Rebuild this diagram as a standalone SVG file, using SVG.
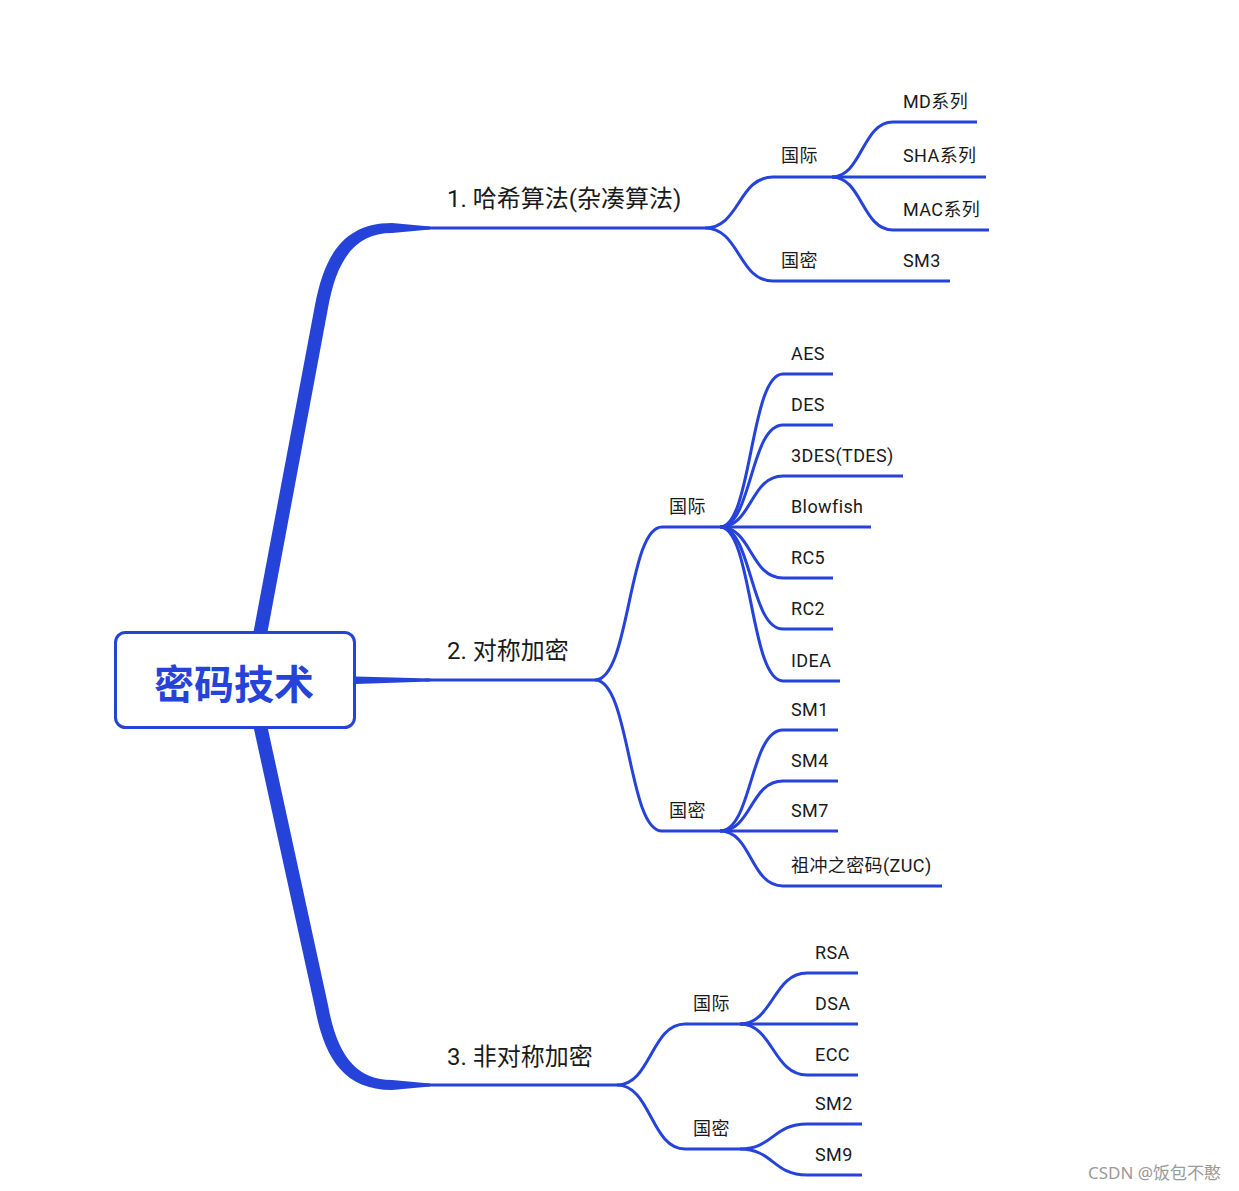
<svg xmlns="http://www.w3.org/2000/svg" width="1239" height="1191" viewBox="0 0 1239 1191">
<style>
.c{fill:none;stroke:#2643d9;stroke-width:3;stroke-linecap:butt}
.t{font-family:Roboto,"Noto Sans CJK SC",sans-serif;fill:#1a1a1a}
.b1{font-size:24px}
.b2{font-size:18px;letter-spacing:0.4px}
.root{font-family:"Noto Sans CJK SC",sans-serif;font-size:40px;font-weight:bold;fill:#2643d9}
.wm{font-family:"Noto Sans","Noto Sans CJK SC",sans-serif;font-size:17px;fill:#9a9a9a}
</style>
<rect width="1239" height="1191" fill="#ffffff"/>
<g id="connectors">
  <path fill="#2643d9" d="M252,640 L315,305 C324,258 342,223 392,223 L430,226.5 L430,229.5 L392,233 C356,233 337,258 328,308 L266,640 Z"/>
  <path fill="#2643d9" d="M252,720 L315,1008 C324,1055 342,1090 392,1090 L430,1086.5 L430,1083.5 L392,1080 C356,1080 337,1055 328,1005 L266,720 Z"/>
  <path fill="#2643d9" d="M350,676 L356,676.5 L430,678.5 L430,681.5 L356,684 L350,684 Z"/>
  <path class="c" d="M425,228 L705,228"/>
  <path class="c" d="M705,228 C740,228 738,177 773,177 L832,177"/>
  <path class="c" d="M705,228 C740,228 738,281 773,281 L830,281"/>
  <path class="c" d="M832,177 C862,177 862,122 893,122 L977,122"/>
  <path class="c" d="M832,177 L986,177"/>
  <path class="c" d="M832,177 C862,177 862,230 893,230 L989,230"/>
  <path class="c" d="M830,281 L950,281"/>
  <path class="c" d="M425,680 L595,680"/>
  <path class="c" d="M595,680 C630,680 628,527 662,527 L720,527"/>
  <path class="c" d="M595,680 C630,680 628,831 662,831 L720,831"/>
  <path class="c" d="M720,527 C752,527 750,374 783,374 L833,374"/>
  <path class="c" d="M720,527 C752,527 750,425 783,425 L833,425"/>
  <path class="c" d="M720,527 C752,527 750,476 783,476 L903,476"/>
  <path class="c" d="M720,527 L871,527"/>
  <path class="c" d="M720,527 C752,527 750,578 783,578 L833,578"/>
  <path class="c" d="M720,527 C752,527 750,629 783,629 L833,629"/>
  <path class="c" d="M720,527 C752,527 750,681 783,681 L840,681"/>
  <path class="c" d="M720,831 C752,831 750,730 783,730 L838,730"/>
  <path class="c" d="M720,831 C752,831 750,781 783,781 L838,781"/>
  <path class="c" d="M720,831 L838,831"/>
  <path class="c" d="M720,831 C752,831 750,886 783,886 L942,886"/>
  <path class="c" d="M425,1085 L617,1085"/>
  <path class="c" d="M617,1085 C651,1085 651,1024 685,1024 L740,1024"/>
  <path class="c" d="M617,1085 C651,1085 651,1149 685,1149 L740,1149"/>
  <path class="c" d="M740,1024 C773,1024 773,973 807,973 L858,973"/>
  <path class="c" d="M740,1024 L858,1024"/>
  <path class="c" d="M740,1024 C773,1024 773,1075 807,1075 L858,1075"/>
  <path class="c" d="M740,1149 C773,1149 773,1124 807,1124 L862,1124"/>
  <path class="c" d="M740,1149 C773,1149 773,1175 807,1175 L862,1175"/>
</g>
<g id="root">
  <rect x="115.5" y="632.5" width="239" height="95" rx="10" fill="#ffffff" stroke="#2643d9" stroke-width="3"/>
  <text class="root" x="234" y="699" text-anchor="middle">密码技术</text>
</g>
<g id="n-hash"><text class="t b1" x="447" y="207">1. 哈希算法(杂凑算法)</text></g>
<g id="n-hash-intl"><text class="t b2" x="781" y="162">国际</text></g>
<g id="n-hash-cn"><text class="t b2" x="781" y="267">国密</text></g>
<g id="n-md"><text class="t b2" x="903" y="108">MD系列</text></g>
<g id="n-sha"><text class="t b2" x="903" y="162">SHA系列</text></g>
<g id="n-mac"><text class="t b2" x="903" y="216">MAC系列</text></g>
<g id="n-sm3"><text class="t b2" x="903" y="267">SM3</text></g>
<g id="n-sym"><text class="t b1" x="447" y="659">2. 对称加密</text></g>
<g id="n-sym-intl"><text class="t b2" x="669" y="513">国际</text></g>
<g id="n-sym-cn"><text class="t b2" x="669" y="817">国密</text></g>
<g id="n-aes"><text class="t b2" x="791" y="360">AES</text></g>
<g id="n-des"><text class="t b2" x="791" y="411">DES</text></g>
<g id="n-3des"><text class="t b2" x="791" y="462">3DES(TDES)</text></g>
<g id="n-blowfish"><text class="t b2" x="791" y="513">Blowfish</text></g>
<g id="n-rc5"><text class="t b2" x="791" y="564">RC5</text></g>
<g id="n-rc2"><text class="t b2" x="791" y="615">RC2</text></g>
<g id="n-idea"><text class="t b2" x="791" y="667">IDEA</text></g>
<g id="n-sm1"><text class="t b2" x="791" y="716">SM1</text></g>
<g id="n-sm4"><text class="t b2" x="791" y="767">SM4</text></g>
<g id="n-sm7"><text class="t b2" x="791" y="817">SM7</text></g>
<g id="n-zuc"><text class="t b2" x="791" y="872">祖冲之密码(ZUC)</text></g>
<g id="n-asym"><text class="t b1" x="447" y="1065">3. 非对称加密</text></g>
<g id="n-asym-intl"><text class="t b2" x="693" y="1010">国际</text></g>
<g id="n-asym-cn"><text class="t b2" x="693" y="1135">国密</text></g>
<g id="n-rsa"><text class="t b2" x="815" y="959">RSA</text></g>
<g id="n-dsa"><text class="t b2" x="815" y="1010">DSA</text></g>
<g id="n-ecc"><text class="t b2" x="815" y="1061">ECC</text></g>
<g id="n-sm2"><text class="t b2" x="815" y="1110">SM2</text></g>
<g id="n-sm9"><text class="t b2" x="815" y="1161">SM9</text></g>
<text class="wm" x="1088" y="1179">CSDN @饭包不憨</text>
</svg>
